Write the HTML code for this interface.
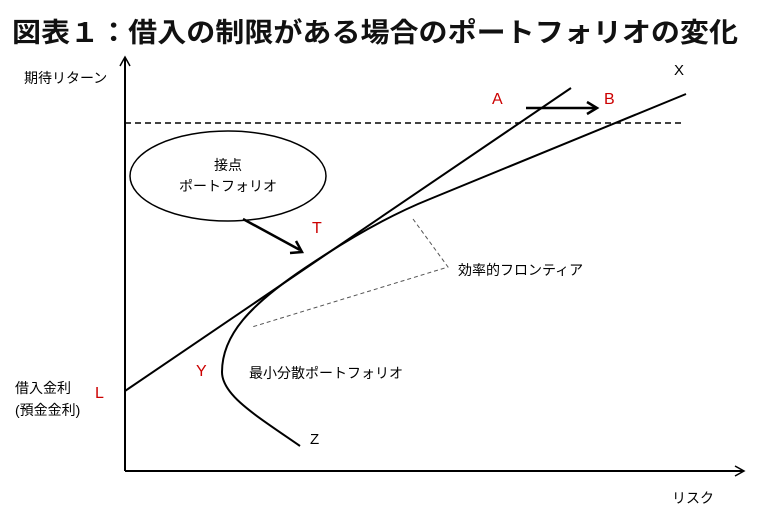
<!DOCTYPE html>
<html><head><meta charset="utf-8"><style>
html,body{margin:0;padding:0;background:#fff;width:758px;height:518px;overflow:hidden}
svg{display:block}
text{font-family:"Liberation Sans","Noto Sans CJK JP",sans-serif}
</style></head><body>
<svg width="758" height="518" viewBox="0 0 758 518" xmlns="http://www.w3.org/2000/svg">
<text x="12" y="42" font-size="27" font-weight="bold" fill="#111" textLength="726" lengthAdjust="spacingAndGlyphs">図表１：借入の制限がある場合のポートフォリオの変化</text>
<line x1="125" y1="471" x2="125" y2="58" stroke="#000" stroke-width="2"/>
<polyline points="120,66 125,57 130,66" fill="none" stroke="#000" stroke-width="1.5"/>
<line x1="125" y1="471" x2="743" y2="471" stroke="#000" stroke-width="2"/>
<polyline points="735,466 744,471 735,476" fill="none" stroke="#000" stroke-width="1.5"/>
<line x1="125" y1="123" x2="681" y2="123" stroke="#000" stroke-width="1.5" stroke-dasharray="6,4"/>
<line x1="125" y1="391" x2="571" y2="88" stroke="#000" stroke-width="2"/>
<path d="M300,446 C255,415 222,395 222,372 C222,335 250,305 305,268 C345,241 390,215 430,199 L686,94" fill="none" stroke="#000" stroke-width="2"/>
<polyline points="413,219 448,267 252,327" fill="none" stroke="#555" stroke-width="1" stroke-dasharray="4,3"/>
<ellipse cx="228" cy="176" rx="98" ry="45" fill="#fff" stroke="#000" stroke-width="1.5"/>
<text x="228" y="170" font-size="14" text-anchor="middle">接点</text>
<text x="228" y="191" font-size="14" text-anchor="middle">ポートフォリオ</text>
<line x1="243" y1="219" x2="300" y2="250" stroke="#000" stroke-width="2.5"/>
<polyline points="290,253 302,252 296,241" fill="none" stroke="#000" stroke-width="2.5"/>
<line x1="526" y1="108" x2="596" y2="108" stroke="#000" stroke-width="2.5"/>
<polyline points="587,102 597,108 587,114" fill="none" stroke="#000" stroke-width="2.5"/>
<text x="24" y="83" font-size="14">期待リターン</text>
<text x="674" y="75" font-size="15">X</text>
<text x="492" y="104" font-size="16" fill="#c00">A</text>
<text x="604" y="104" font-size="16" fill="#c00">B</text>
<text x="312" y="233" font-size="16" fill="#c00">T</text>
<text x="196" y="376" font-size="16" fill="#c00">Y</text>
<text x="95" y="398" font-size="16" fill="#c00">L</text>
<text x="310" y="444" font-size="15">Z</text>
<text x="458" y="275" font-size="14">効率的フロンティア</text>
<text x="249" y="378" font-size="14">最小分散ポートフォリオ</text>
<text x="15" y="393" font-size="14">借入金利</text>
<text x="15" y="415" font-size="14">(預金金利)</text>
<text x="672" y="503" font-size="14">リスク</text>
</svg>
</body></html>
